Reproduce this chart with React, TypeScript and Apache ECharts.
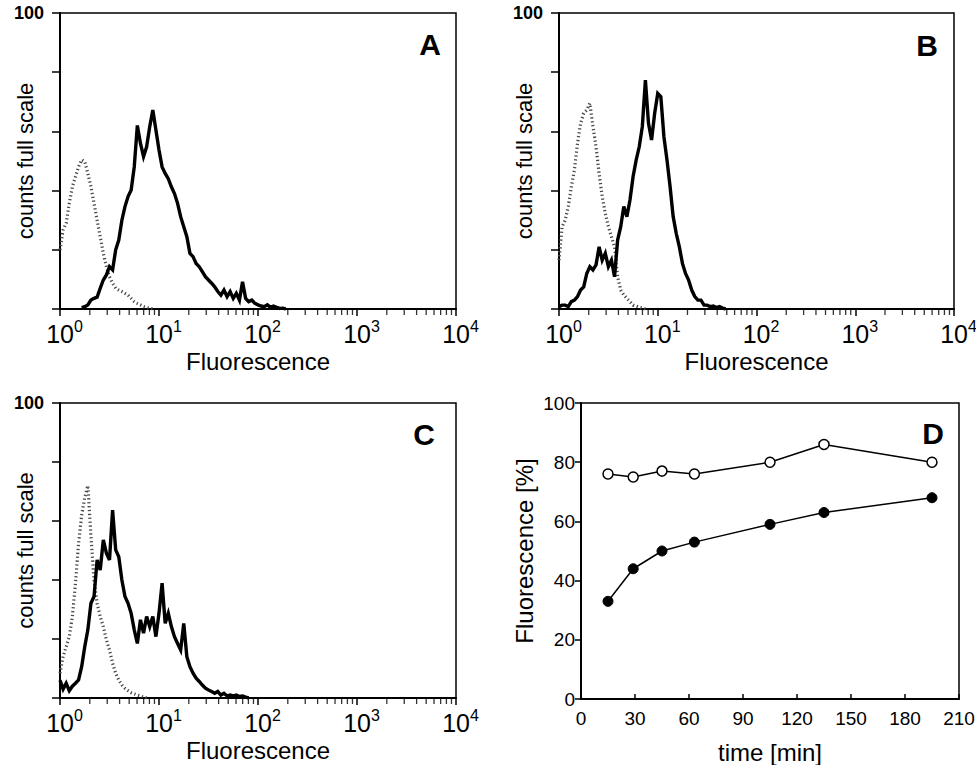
import React, { useEffect, useRef } from 'react';
import * as echarts from 'echarts';

const FONT = 'Liberation Sans, Arial, Helvetica, sans-serif';

// Flow cytometry histograms: 1024 channels over 4 decades, counts in % of full scale.
const CHANNEL_STEP = 8;
const CHANNELS_PER_DECADE = 256;

// Panel A
const aControlStart = 0;
const aControl = [20, 26.7, 29, 35.7, 41.3, 44.7, 48, 50.4, 49.8, 45.8, 41.3, 35.7, 30, 24.4, 18.8, 14.3, 10.9, 8.7, 7, 6.4, 5.9, 5.3, 4.7, 3.6, 2.5, 1.9, 1.4, 0.8, 0.5, 0.2, 0];
const aSampleStart = 56;
const aSample = [0.5, 0.8, 1.4, 3, 3.6, 4, 7, 9.8, 11.5, 14.3, 13.2, 20, 23.3, 30, 34.6, 38, 40.2, 48, 62, 56, 51.5, 54.8, 61.6, 67.2, 60.5, 53.7, 48, 45.8, 44, 41.3, 39, 35.7, 31.2, 27.8, 24.4, 18.8, 17.7, 15.4, 14.3, 12.6, 10.9, 9.8, 8.7, 7.5, 5.9, 4.7, 6.4, 4.2, 5.9, 3.6, 5.3, 3, 9.2, 3.6, 2.5, 3, 1.9, 1.4, 1, 0.8, 1.4, 0.6, 1, 0.6, 0.2, 0.3, 0];

// Panel B
const bControlStart = 0;
const bControl = [16.5, 27.8, 30, 34.6, 41.3, 47, 56, 62.7, 66.1, 67.2, 69.5, 61.6, 54.8, 45.8, 38, 32.3, 27.8, 24.4, 21, 10.9, 6.4, 4.7, 3.6, 2.5, 1.3, 1, 0.6, 0.3, 0];
const bSampleStart = 0;
const bSample = [0.8, 1.3, 1.3, 0.8, 2.5, 3, 4.2, 6.4, 7.5, 12, 14.3, 13.2, 14.9, 21, 16.5, 18.8, 14.3, 16.5, 10.9, 23.3, 27.8, 34.6, 31.2, 36.8, 44.7, 50.3, 54.8, 61.6, 77.3, 62.7, 57.1, 66.1, 72.8, 71.7, 58.2, 50.3, 41.3, 31.2, 25.5, 21, 15.4, 12, 9.8, 6.4, 4.2, 3, 3, 1.3, 1.3, 0.8, 1, 0.5, 0.8, 0.3, 0];

// Panel C
const cControlStart = 0;
const cControl = [8.4, 14, 17.4, 20.8, 27.6, 38.9, 52.4, 62, 68, 72, 55, 40, 32.1, 27.6, 24.2, 19.7, 16.3, 11.8, 8.4, 6.1, 4.4, 3.3, 2.5, 1.8, 1.4, 1, 0.7, 0.3, 0];
const cSampleStart = 0;
const cSample = [6, 3, 5, 2.5, 4, 5, 6.1, 10.6, 17.4, 23.1, 32.1, 34.4, 46.8, 43.4, 53.6, 49.1, 46.8, 63.7, 50.2, 47.9, 40, 34.4, 32.1, 28.7, 23.1, 18.5, 26.5, 22, 27.6, 24.2, 27.6, 20.8, 28.7, 38.9, 25.3, 28.7, 24.2, 20.8, 18.5, 16.3, 25.3, 14, 10.6, 8.4, 6.7, 5.6, 4.4, 3.3, 2.7, 2.2, 1.6, 2.2, 1, 1.6, 0.7, 1, 0.7, 1, 0.5, 0.7, 0.3, 0];

// Panel D
const timeMin = [15, 29, 45, 63, 105, 135, 195];
const openSeries = [76, 75, 77, 76, 80, 86, 80];
const filledSeries = [33, 44, 50, 53, 59, 63, 68];

const decadeExponents = [0, 1, 2, 3];
const minorMultipliers = [2, 3, 4, 5, 6, 7, 8, 9];

const toHist = (start: number, vals: number[]) =>
  vals.map((v, i) => [Math.pow(10, (start + i * CHANNEL_STEP) / CHANNELS_PER_DECADE), v]);

const minorTickValues: number[] = [];
decadeExponents.forEach((e) => minorMultipliers.forEach((m) => minorTickValues.push(m * Math.pow(10, e))));

function histAxes(i: number) {
  const xAxis = {
    type: 'log',
    logBase: 10,
    min: 1,
    max: 10000,
    splitNumber: 4,
    gridIndex: i,
    name: 'Fluorescence',
    nameLocation: 'middle',
    nameGap: 40,
    nameMoveOverlap: false,
    nameTextStyle: { fontFamily: FONT, color: '#000', fontSize: 24 },
    axisLine: { show: true, lineStyle: { color: '#000', width: 2 } },
    axisTick: { show: true, inside: false, length: 7, lineStyle: { color: '#000', width: 1.5 } },
    splitLine: { show: false },
    axisLabel: {
      show: true,
      color: '#000',
      margin: 9,
      formatter: (v: number) => `{b|10}{s|${Math.round(Math.log10(v))}}`,
      rich: {
        b: { fontFamily: FONT, color: '#000', fontSize: 25, lineHeight: 32, padding: [0, 0, 0, 9] },
        s: { fontFamily: FONT, color: '#000', fontSize: 16, lineHeight: 16, verticalAlign: 'top' },
      },
    },
  };
  const yAxis = {
    type: 'value',
    min: 0,
    max: 100,
    interval: 20,
    gridIndex: i,
    name: 'counts full scale',
    nameLocation: 'middle',
    nameGap: 24,
    nameMoveOverlap: false,
    nameTextStyle: { fontFamily: FONT, color: '#000', fontSize: 22 },
    axisLine: { show: true, lineStyle: { color: '#000', width: 2 } },
    axisTick: { show: true, inside: false, length: 8, lineStyle: { color: '#000', width: 1.5 } },
    splitLine: { show: false },
    axisLabel: {
      show: true,
      fontFamily: FONT,
      color: '#000',
      fontSize: 18,
      fontWeight: 'bold',
      margin: 16,
      formatter: (v: number) => (v === 100 ? '100' : ''),
    },
  };
  return { xAxis, yAxis };
}

function histSeries(i: number, cStart: number, control: number[], sStart: number, sample: number[]) {
  return [
    {
      type: 'scatter',
      xAxisIndex: i,
      yAxisIndex: i,
      data: minorTickValues.map((v) => [v, 0]),
      symbol: 'rect',
      symbolSize: [1.3, 6],
      symbolOffset: [0, 3],
      itemStyle: { color: '#000' },
      clip: false,
      silent: true,
      z: 1,
    },
    {
      type: 'line',
      xAxisIndex: i,
      yAxisIndex: i,
      data: toHist(cStart, control),
      symbol: 'none',
      lineStyle: { color: '#4a4a4a', width: 3.2, type: [1.3, 2.6] },
      z: 2,
    },
    {
      type: 'line',
      xAxisIndex: i,
      yAxisIndex: i,
      data: toHist(sStart, sample),
      symbol: 'none',
      lineStyle: { color: '#000', width: 3.4, join: 'miter' },
      z: 3,
    },
  ];
}

export default function App() {
  const ref = useRef<HTMLDivElement>(null);
  useEffect(() => {
    if (!ref.current) return;
    const chart = echarts.init(ref.current, undefined, { renderer: 'svg' });
    const a = histAxes(0);
    const b = histAxes(1);
    const c = histAxes(2);
    const gridBase = {
      show: true,
      borderColor: '#000',
      borderWidth: 1.5,
      backgroundColor: 'transparent',
      containLabel: false,
      outerBoundsMode: 'none',
    };
    const letter = (t: string, x: number, y: number) => ({
      type: 'text',
      x,
      y,
      style: {
        text: t,
        fontFamily: FONT,
        fontSize: 30,
        fontWeight: 'bold',
        fill: '#000',
        align: 'center',
        verticalAlign: 'middle',
        textAlign: 'center',
        textVerticalAlign: 'middle',
      },
    });
    chart.setOption({
      animation: false,
      backgroundColor: '#fff',
      grid: [
        { ...gridBase, left: 60, top: 13, width: 396, height: 296 },
        { ...gridBase, left: 559, top: 13, width: 395, height: 296 },
        { ...gridBase, left: 60, top: 403, width: 396, height: 295 },
        { ...gridBase, left: 581, top: 403, width: 378, height: 296 },
      ],
      xAxis: [
        a.xAxis,
        b.xAxis,
        c.xAxis,
        {
          type: 'value',
          gridIndex: 3,
          min: 0,
          max: 210,
          interval: 30,
          name: 'time [min]',
          nameLocation: 'middle',
          nameGap: 41,
          nameMoveOverlap: false,
          nameTextStyle: { fontFamily: FONT, color: '#000', fontSize: 24 },
          axisLine: { show: true, lineStyle: { color: '#000', width: 2 } },
          axisTick: { show: true, inside: true, length: 5, lineStyle: { color: '#000', width: 1.5 } },
          splitLine: { show: false },
          axisLabel: { fontFamily: FONT, color: '#000', fontSize: 19, margin: 10 },
        },
      ],
      yAxis: [
        a.yAxis,
        b.yAxis,
        c.yAxis,
        {
          type: 'value',
          gridIndex: 3,
          min: 0,
          max: 100,
          interval: 20,
          name: 'Fluorescence [%]',
          nameLocation: 'middle',
          nameGap: 45,
          nameMoveOverlap: false,
          nameTextStyle: { fontFamily: FONT, color: '#000', fontSize: 24 },
          axisLine: { show: true, lineStyle: { color: '#000', width: 2 } },
          axisTick: { show: true, inside: false, length: 6, lineStyle: { color: '#000', width: 1.5 } },
          splitLine: { show: false },
          axisLabel: { fontFamily: FONT, color: '#000', fontSize: 19, margin: 6 },
        },
      ],
      series: [
        ...histSeries(0, aControlStart, aControl, aSampleStart, aSample),
        ...histSeries(1, bControlStart, bControl, bSampleStart, bSample),
        ...histSeries(2, cControlStart, cControl, cSampleStart, cSample),
        {
          type: 'line',
          xAxisIndex: 3,
          yAxisIndex: 3,
          data: timeMin.map((t, i) => [t, openSeries[i]]),
          symbol: 'circle',
          symbolSize: 10,
          lineStyle: { color: '#000', width: 1.5 },
          itemStyle: { color: '#fff', borderColor: '#000', borderWidth: 1.5 },
          z: 3,
        },
        {
          type: 'line',
          xAxisIndex: 3,
          yAxisIndex: 3,
          data: timeMin.map((t, i) => [t, filledSeries[i]]),
          symbol: 'circle',
          symbolSize: 10,
          lineStyle: { color: '#000', width: 1.5 },
          itemStyle: { color: '#000', borderColor: '#000', borderWidth: 1 },
          z: 3,
        },
      ],
      graphic: [letter('A', 430, 44), letter('B', 927, 45), letter('C', 424, 434), letter('D', 933, 433)],
    });
    return () => chart.dispose();
  }, []);
  return <div ref={ref} style={{ position: 'absolute', left: 0, top: 0, width: 976, height: 765 }} />;
}
